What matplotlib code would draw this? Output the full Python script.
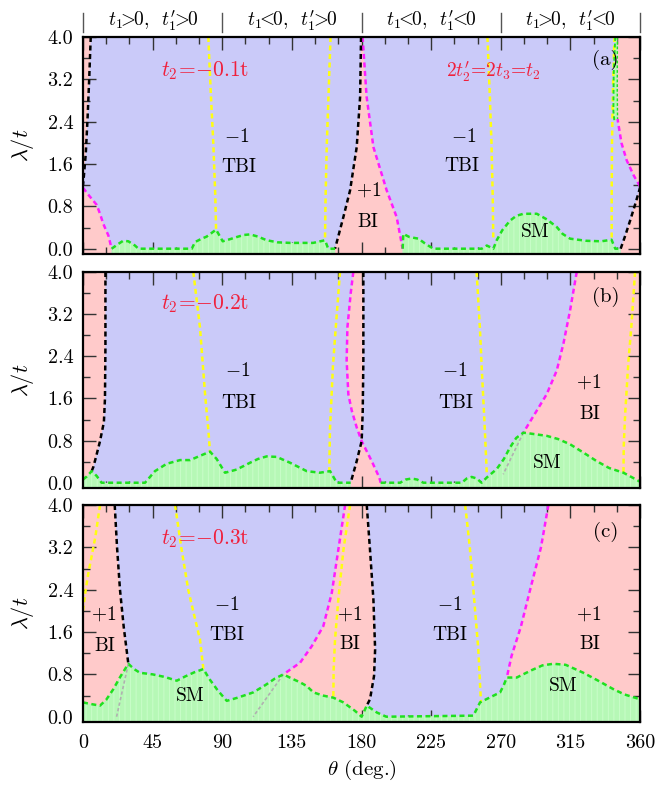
import matplotlib
matplotlib.use("Agg")
import matplotlib.pyplot as plt
from matplotlib.ticker import MultipleLocator, FixedLocator
import matplotlib.transforms as mtransforms

plt.rcParams.update({
    "font.family": "serif",
    "font.serif": ["cmr10", "DejaVu Serif"],
    "mathtext.fontset": "cm",
    "axes.formatter.use_mathtext": True,
    "hatch.linewidth": 0.7,
})

# ---------------- phase boundaries: theta (deg) vs lambda/t ----------------
# panel (a): t2 = -0.1 t
a_blkL_th = [5.0, 4.0, 3.0, 1.8, 0.5, 0.0]
a_blkL_lam = [4.0, 3.2, 2.5, 1.8, 1.35, 1.2]
a_magL_th = [0.0, 4.0, 8.8, 11.0, 13.1, 16.4, 18.5]
a_magL_lam = [1.15, 1.0, 0.83, 0.66, 0.47, 0.25, 0.0]
a_blkM_th = [179.7, 179.1, 176.9, 172.6, 168.3, 162.9]
a_blkM_lam = [4.0, 2.87, 1.92, 1.1, 0.6, 0.0]
a_magM_th = [180.7, 183.3, 187.7, 196.3, 202.7, 206.6]
a_magM_lam = [4.0, 2.87, 1.92, 1.1, 0.6, 0.0]
a_blkR_th = [347.5, 350.5, 353.6, 357.0, 360.0]
a_blkR_lam = [0.0, 0.25, 0.53, 0.85, 1.15]
a_magR_th = [360.0, 356.0, 351.4, 348.0, 345.5]
a_magR_lam = [1.18, 1.38, 1.67, 2.0, 2.45]
a_slvL_th = [344.0, 343.0, 342.8, 343.5]
a_slvL_lam = [4.0, 3.3, 2.6, 2.4]
a_slvR_th = [345.4, 345.3, 345.5]
a_slvR_lam = [4.0, 3.0, 2.45]
a_yel1_th = [81.0, 82.5, 84.2, 85.5, 86.0]
a_yel1_lam = [4.0, 3.0, 2.0, 1.0, 0.36]
a_yel2_th = [160.0, 158.8, 157.6, 156.8, 156.4]
a_yel2_lam = [4.0, 3.0, 2.0, 1.0, 0.16]
a_yel3_th = [261.4, 262.8, 264.0, 264.8, 265.2]
a_yel3_lam = [4.0, 3.0, 2.0, 1.0, 0.16]
a_yel4_th = [343.5, 342.5, 341.9, 341.7, 341.7]
a_yel4_lam = [4.0, 3.0, 2.0, 1.0, 0.15]
a_gr1_th = [18.5, 22.8, 26.0, 29.3, 33.6, 35.8, 70.3, 72.4, 76.0, 80.0, 86.0,
            90.3, 95.0, 99.3, 104.0, 108.0, 113.0, 118.7, 126.0, 133.8, 148.8,
            156.4, 158.5, 162.9]
a_gr1_lam = [0.0, 0.09, 0.15, 0.14, 0.06, 0.0, 0.0, 0.125, 0.18, 0.23, 0.36,
             0.14, 0.18, 0.22, 0.26, 0.27, 0.23, 0.16, 0.12, 0.11, 0.11,
             0.16, 0.0, 0.0]
a_gr2_th = [206.6, 207.0, 211.0, 216.8, 221.0, 226.4, 257.7, 261.0, 265.2,
            267.4, 271.0, 276.0, 280.0, 284.6, 293.3, 300.0, 306.2, 310.0,
            314.8, 325.0, 335.0, 341.6, 344.0, 347.5]
a_gr2_lam = [0.0, 0.28, 0.22, 0.19, 0.1, 0.0, 0.0, 0.06, 0.0,
             0.16, 0.35, 0.53, 0.62, 0.66, 0.66, 0.55, 0.41, 0.28,
             0.19, 0.15, 0.14, 0.17, 0.0, 0.0]

# panel (b): t2 = -0.2 t
b_blkL_th = [14.5, 14.5, 14.2, 13.5, 11.0, 8.5, 6.7, 5.6]
b_blkL_lam = [4.0, 2.6, 1.6, 1.15, 0.79, 0.5, 0.3, 0.22]
b_magM_th = [174.7, 173.0, 170.9, 170.4, 171.5, 173.7, 176.9, 180.1, 186.6, 191.5, 192.4]
b_magM_lam = [4.0, 3.59, 2.95, 2.32, 1.68, 1.37, 1.05, 0.79, 0.41, 0.1, 0.0]
b_blkM_th = [181.2, 181.2, 180.8, 180.1, 176.9, 173.0]
b_blkM_lam = [4.0, 2.32, 1.37, 0.79, 0.41, 0.0]
b_magR_th = [319.1, 314.8, 310.5, 306.2, 299.7, 293.3, 284.6]
b_magR_lam = [4.0, 3.27, 2.64, 2.13, 1.68, 1.37, 0.95]
b_gray_th = [284.6, 271.6]
b_gray_lam = [0.95, 0.16]
b_yel1_th = [71.3, 75.6, 78.9, 81.0, 82.1]
b_yel1_lam = [4.0, 2.95, 1.68, 1.0, 0.59]
b_yel2_th = [166.1, 163.5, 161.5, 160.7, 159.6, 159.2]
b_yel2_lam = [4.0, 3.0, 2.2, 1.68, 1.0, 0.22]
b_yel3_th = [254.4, 256.5, 258.0, 259.4, 261.0]
b_yel3_lam = [4.0, 2.95, 2.0, 1.2, 0.16]
b_yel4_th = [356.8, 354.5, 352.5, 350.4, 349.5, 349.3]
b_yel4_lam = [4.0, 3.0, 2.3, 1.3, 0.7, 0.16]
b_gr1_th = [0.0, 2.5, 5.6, 8.8, 12.0, 40.1, 43.0, 46.5, 54.1, 62.7, 69.2, 75.6,
            82.1, 86.4, 91.8, 99.3, 108.0, 113.0, 118.7, 125.2, 133.8, 144.6,
            153.0, 159.7, 164.0, 173.0]
b_gr1_lam = [0.06, 0.12, 0.22, 0.13, 0.0, 0.0, 0.1, 0.22, 0.36, 0.43, 0.43, 0.51,
             0.59, 0.45, 0.19, 0.25, 0.38, 0.45, 0.5, 0.49, 0.38, 0.22,
             0.19, 0.22, 0.0, 0.0]
b_gr2_th = [192.4, 205.0, 208.5, 212.4, 216.0, 220.0, 244.8, 248.0, 251.2, 254.5,
            257.6, 261.0, 267.4, 272.0, 276.0, 280.0, 284.6, 290.0, 299.7, 307.0,
            314.8, 323.0, 332.0, 340.0, 349.3, 355.0, 360.0]
b_gr2_lam = [0.0, 0.0, 0.06, 0.08, 0.06, 0.0, 0.0, 0.08, 0.11, 0.08,
             0.0, 0.1, 0.26, 0.45, 0.67, 0.85, 0.95, 0.93, 0.89, 0.83,
             0.73, 0.58, 0.41, 0.28, 0.19, 0.1, 0.02]

# panel (c): t2 = -0.3 t
c_blkL_th = [20.5, 22.0, 23.9, 26.3, 29.3]
c_blkL_lam = [4.0, 3.2, 2.4, 1.7, 1.0]
c_grayL_th = [29.3, 21.7]
c_grayL_lam = [1.0, 0.0]
c_yelL_th = [11.0, 8.0, 3.4, 1.5, 0.0]
c_yelL_lam = [4.0, 3.4, 2.7, 2.35, 2.0]
c_yel1_th = [59.5, 63.5, 68.0, 72.0, 75.6, 77.8]
c_yel1_lam = [4.0, 3.2, 2.4, 1.9, 1.46, 0.9]
c_magM_th = [169.4, 165.0, 160.8, 155.3, 147.8, 140.3, 129.5]
c_magM_lam = [4.0, 3.15, 2.34, 1.71, 1.33, 1.02, 0.8]
c_grayM_th = [129.5, 110.0]
c_grayM_lam = [0.8, 0.0]
c_yelM_th = [172.6, 168.3, 165.0, 162.9, 162.0, 161.8]
c_yelM_lam = [4.0, 3.15, 2.21, 1.46, 0.9, 0.36]
c_blkM_th = [183.4, 185.5, 187.7, 188.8, 188.1, 185.5, 183.4]
c_blkM_lam = [4.0, 3.15, 2.21, 1.27, 0.77, 0.33, 0.21]
c_yelR_th = [247.0, 250.0, 252.3, 255.5, 257.2]
c_yelR_lam = [4.0, 3.2, 2.4, 1.27, 0.27]
c_magR_th = [300.8, 296.0, 289.0, 283.0, 277.0, 273.9]
c_magR_lam = [4.0, 3.2, 2.4, 1.7, 1.15, 0.74]
c_gr_th = [0.0, 5.0, 11.0, 15.0, 19.6, 24.0, 29.3, 33.0, 36.8, 45.0, 53.0, 60.6,
           66.0, 72.0, 77.8, 82.0, 87.0, 92.9, 100.0, 110.1, 118.0, 124.0, 129.5,
           135.0, 140.3, 144.6, 148.9, 155.0, 161.8, 168.3, 175.8, 180.1, 183.4,
           189.9, 196.0, 252.3, 256.6, 262.0, 269.6, 272.0, 273.9, 280.3, 290.0,
           297.0, 304.0, 312.0, 323.4, 333.0, 342.8, 350.0, 360.0]
c_gr_lam = [0.27, 0.24, 0.21, 0.32, 0.52, 0.75, 1.0, 0.9, 0.83, 0.8, 0.75, 0.68,
            0.76, 0.84, 0.9, 0.7, 0.5, 0.3, 0.36, 0.46, 0.6, 0.72, 0.8,
            0.72, 0.65, 0.58, 0.46, 0.4, 0.36, 0.27, 0.11, 0.0, 0.21,
            0.08, 0.0, 0.02, 0.27, 0.35, 0.46, 0.6, 0.74, 0.74, 0.88,
            0.97, 1.0, 0.98, 0.83, 0.68, 0.52, 0.42, 0.33]

sector_edges = [0, 90, 180, 270, 360]
sector_labels = [r"$t_1\!\!>\!\!0,\;\;t^{\prime}_1\!\!>\!\!0$",
                 r"$t_1\!\!<\!\!0,\;\;t^{\prime}_1\!\!>\!\!0$",
                 r"$t_1\!\!<\!\!0,\;\;t^{\prime}_1\!\!<\!\!0$",
                 r"$t_1\!\!>\!\!0,\;\;t^{\prime}_1\!\!<\!\!0$"]
x_ticks = [0, 45, 90, 135, 180, 225, 270, 315, 360]
y_ticks = [0.0, 0.8, 1.6, 2.4, 3.2, 4.0]

# ---------------- styling ----------------
LAV = "#cacaf9"
PINK = "#ffcaca"
GFILL = "#b6f8b6"
GHATCH = "#c9fdc9"
GLINE = "#1fe01f"
YEL = "#ffff10"
MAG = "#ff1cff"
RED = "#f0203c"
GRAY = "#b0b0b0"
LMIN = -0.1
DASH = (0, (2.0, 1.4))

fig = plt.figure(figsize=(6.56, 7.92), dpi=100)
left, width = 83 / 656, 557 / 656
ax_a = fig.add_axes([left, 1 - 254 / 792, width, 217 / 792])
ax_b = fig.add_axes([left, 1 - 488 / 792, width, 216 / 792])
ax_c = fig.add_axes([left, 1 - 722 / 792, width, 217 / 792])


def pink(ax, th, lam):
    ax.fill(th, lam, color=PINK, lw=0, zorder=1)


def green(ax, th, lam):
    ax.fill_between(th, LMIN, lam, facecolor=GFILL, edgecolor=GHATCH,
                    hatch="|||", lw=0, zorder=2)


def line(ax, th, lam, color, z=4, lw=1.8):
    ax.plot(th, lam, color=color, ls=DASH, lw=lw, zorder=z,
            solid_capstyle="butt", dash_capstyle="butt")


def label(ax, x, y, s, **kw):
    kw.setdefault("fontsize", 14)
    ax.text(x, y, s, ha="center", va="center", zorder=6, **kw)


# ---- panel (a)
pink(ax_a, [0, a_magL_th[-1]] + a_magL_th[::-1] + a_blkL_th[::-1] + [0],
     [LMIN, LMIN] + a_magL_lam[::-1] + a_blkL_lam[::-1] + [4.0])
pink(ax_a, a_blkM_th + [a_blkM_th[-1], a_magM_th[-1]] + a_magM_th[::-1],
     a_blkM_lam + [LMIN, LMIN] + a_magM_lam[::-1])
pink(ax_a, [360, a_blkR_th[0]] + a_blkR_th + a_magR_th + [a_magR_th[-1], 360],
     [LMIN, LMIN] + a_blkR_lam + a_magR_lam + [4.0, 4.0])
green(ax_a, a_gr1_th, a_gr1_lam)
green(ax_a, a_gr2_th, a_gr2_lam)
ax_a.fill(a_slvL_th + a_slvR_th[::-1], a_slvL_lam + a_slvR_lam[::-1],
          facecolor=GFILL, edgecolor=GHATCH, hatch="|||", lw=0, zorder=2)
for th, lam in [(a_yel1_th, a_yel1_lam), (a_yel2_th, a_yel2_lam),
                (a_yel3_th, a_yel3_lam), (a_yel4_th, a_yel4_lam)]:
    line(ax_a, th, lam, YEL)
for th, lam in [(a_magL_th, a_magL_lam), (a_magM_th, a_magM_lam), (a_magR_th, a_magR_lam)]:
    line(ax_a, th, lam, MAG)
for th, lam in [(a_blkL_th, a_blkL_lam), (a_blkM_th, a_blkM_lam), (a_blkR_th, a_blkR_lam)]:
    line(ax_a, th, lam, "black")
for th, lam in [(a_gr1_th, a_gr1_lam), (a_gr2_th, a_gr2_lam)]:
    line(ax_a, th, lam, GLINE, z=5)
line(ax_a, a_slvL_th, a_slvL_lam, GLINE, z=5, lw=1.4)
line(ax_a, a_slvR_th, a_slvR_lam, GLINE, z=5, lw=1.0)
label(ax_a, 79.0, 3.37, r"$t_2\!{=}\!{-}0.1\mathrm{t}$", color=RED, fontsize=15.5)
label(ax_a, 265.2, 3.34, r"2$t^{\prime}_2$=2$t_3$=$t_2$", color=RED)
label(ax_a, 99.3, 2.11, r"$-1$")
label(ax_a, 100.4, 1.54, "TBI")
label(ax_a, 184.4, 1.10, r"$+1$")
label(ax_a, 184.4, 0.50, "BI")
label(ax_a, 245.8, 2.11, r"$-1$")
label(ax_a, 244.8, 1.56, "TBI")
label(ax_a, 292.2, 0.31, "SM")
label(ax_a, 337.4, 3.56, "(a)", fontsize=15)

# ---- panel (b)
pink(ax_b, [0] + b_blkL_th + [b_blkL_th[-1], 0],
     [4.0] + b_blkL_lam + [LMIN, LMIN])
pink(ax_b, b_magM_th + [b_magM_th[-1], b_blkM_th[-1]] + b_blkM_th[::-1],
     b_magM_lam + [LMIN, LMIN] + b_blkM_lam[::-1])
pink(ax_b, b_magR_th + [b_magR_th[-1], 360, 360],
     b_magR_lam + [LMIN, LMIN, 4.0])
green(ax_b, b_gr1_th, b_gr1_lam)
green(ax_b, b_gr2_th, b_gr2_lam)
line(ax_b, b_gray_th, b_gray_lam, GRAY, z=3, lw=1.2)
for th, lam in [(b_yel1_th, b_yel1_lam), (b_yel2_th, b_yel2_lam),
                (b_yel3_th, b_yel3_lam), (b_yel4_th, b_yel4_lam)]:
    line(ax_b, th, lam, YEL)
for th, lam in [(b_magM_th, b_magM_lam), (b_magR_th, b_magR_lam)]:
    line(ax_b, th, lam, MAG)
for th, lam in [(b_blkL_th, b_blkL_lam), (b_blkM_th, b_blkM_lam)]:
    line(ax_b, th, lam, "black")
for th, lam in [(b_gr1_th, b_gr1_lam), (b_gr2_th, b_gr2_lam)]:
    line(ax_b, th, lam, GLINE, z=5)
label(ax_b, 79.0, 3.40, r"$t_2\!{=}\!{-}0.2\mathrm{t}$", color=RED, fontsize=15.5)
label(ax_b, 99.7, 2.13, r"$-1$")
label(ax_b, 100.4, 1.52, "TBI")
label(ax_b, 240.5, 2.13, r"$-1$")
label(ax_b, 241.1, 1.52, "TBI")
label(ax_b, 326.6, 1.90, r"$+1$")
label(ax_b, 327.3, 1.30, "BI")
label(ax_b, 299.7, 0.38, "SM")
label(ax_b, 338.0, 3.52, "(b)", fontsize=15)

# ---- panel (c)
pink(ax_c, [0] + c_blkL_th + [c_blkL_th[-1], 0],
     [4.0] + c_blkL_lam + [LMIN, LMIN])
pink(ax_c, c_magM_th + [c_magM_th[-1], c_blkM_th[-1]] + c_blkM_th[::-1],
     c_magM_lam + [LMIN, LMIN] + c_blkM_lam[::-1])
pink(ax_c, c_magR_th + [c_magR_th[-1], 360, 360],
     c_magR_lam + [LMIN, LMIN, 4.0])
green(ax_c, c_gr_th, c_gr_lam)
line(ax_c, c_grayL_th, c_grayL_lam, GRAY, z=3, lw=1.2)
line(ax_c, c_grayM_th, c_grayM_lam, GRAY, z=3, lw=1.2)
for th, lam in [(c_yelL_th, c_yelL_lam), (c_yel1_th, c_yel1_lam),
                (c_yelM_th, c_yelM_lam), (c_yelR_th, c_yelR_lam)]:
    line(ax_c, th, lam, YEL)
for th, lam in [(c_magM_th, c_magM_lam), (c_magR_th, c_magR_lam)]:
    line(ax_c, th, lam, MAG)
for th, lam in [(c_blkL_th, c_blkL_lam), (c_blkM_th, c_blkM_lam)]:
    line(ax_c, th, lam, "black")
line(ax_c, c_gr_th, c_gr_lam, GLINE, z=5)
label(ax_c, 79.0, 3.37, r"$t_2\!{=}\!{-}0.3\mathrm{t}$", color=RED, fontsize=15.5)
label(ax_c, 13.1, 1.93, r"$+1$")
label(ax_c, 14.2, 1.33, "BI")
label(ax_c, 92.9, 2.12, r"$-1$")
label(ax_c, 92.9, 1.55, "TBI")
label(ax_c, 69.2, 0.39, "SM")
label(ax_c, 172.6, 1.93, r"$+1$")
label(ax_c, 172.6, 1.37, "BI")
label(ax_c, 237.2, 2.12, r"$-1$")
label(ax_c, 237.2, 1.55, "TBI")
label(ax_c, 326.6, 1.93, r"$+1$")
label(ax_c, 327.3, 1.37, "BI")
label(ax_c, 310.5, 0.58, "SM")
label(ax_c, 338.0, 3.50, "(c)", fontsize=15)

# ---- common axes formatting
for ax in (ax_a, ax_b, ax_c):
    ax.set_facecolor(LAV)
    ax.set_xlim(0, 360)
    ax.set_ylim(LMIN, 4.0)
    ax.xaxis.set_major_locator(FixedLocator(x_ticks))
    ax.xaxis.set_minor_locator(MultipleLocator(15))
    ax.yaxis.set_major_locator(FixedLocator(y_ticks))
    ax.yaxis.set_minor_locator(MultipleLocator(0.4))
    ax.tick_params(which="both", direction="in", top=True, right=True,
                   width=1.0, color="#333333")
    ax.tick_params(which="major", length=9)
    ax.tick_params(which="minor", length=5)
    ax.tick_params(axis="y", labelsize=14.5, pad=7)
    ax.tick_params(axis="x", labelsize=14.5, pad=9)
    ax.set_yticklabels([f"{v:.1f}" for v in y_ticks])
    for sp in ax.spines.values():
        sp.set_linewidth(1.6)
        sp.set_zorder(10)
    ax.set_ylabel(r"$\lambda/t$", fontsize=16)
    ax.yaxis.set_label_coords(-0.085, 0.5)

for ax in (ax_a, ax_b):
    ax.tick_params(axis="x", labelbottom=False)

ax_c.set_xticklabels([str(v) for v in x_ticks])
ax_c.set_xlabel(r"$\theta$ (deg.)", fontsize=15)
ax_c.xaxis.set_label_coords(0.5, -0.165)

# sector labels above panel (a)
trans = mtransforms.blended_transform_factory(ax_a.transData, ax_a.transAxes)
for e in sector_edges:
    ax_a.plot([e, e], [1.023, 1.11], transform=trans, color="#555555",
              lw=1.0, clip_on=False)
for i, s in enumerate(sector_labels):
    ax_a.text((sector_edges[i] + sector_edges[i + 1]) / 2, 1.075, s,
              transform=trans, ha="center", va="center", fontsize=14)

fig.savefig("out.png", dpi=100)
